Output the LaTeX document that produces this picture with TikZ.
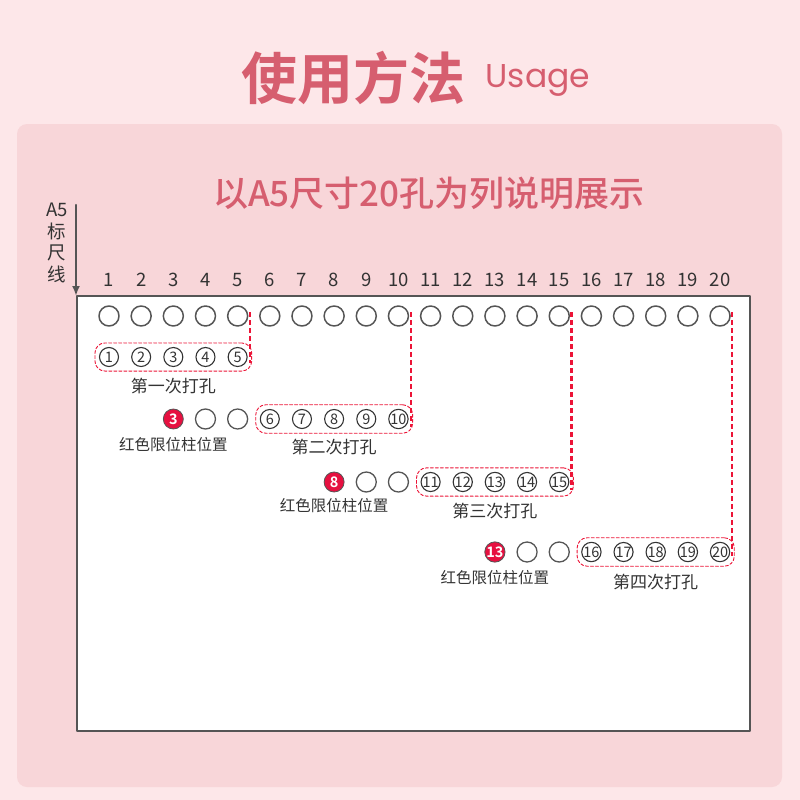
\documentclass[tikz,border=0pt]{standalone}
\usepackage{fontspec}
\setmainfont{Noto Sans CJK SC}[BoldFont={Noto Sans CJK SC Bold}]
\newfontfamily\usagefont{Poppins}
\newfontfamily\mediumfont{Noto Sans CJK SC Medium}
\usetikzlibrary{arrows.meta,calc,positioning,fit}

\definecolor{pageBg}{RGB}{253,231,233}
\definecolor{panelBg}{RGB}{248,214,217}
\definecolor{titleRose}{RGB}{214,94,111}
\definecolor{cutRed}{RGB}{236,20,55}
\definecolor{pinRed}{RGB}{230,16,64}
\definecolor{holeGray}{RGB}{85,85,85}
\definecolor{textGray}{RGB}{51,51,51}

\begin{document}
\begin{tikzpicture}[x=1pt, y=-1pt, >=Latex, line cap=round, line join=round]

% ---------- styles (safe names) ----------
\tikzset{
  holeDot/.style  ={circle, draw=holeGray, line width=1.5pt, fill=white,
                    minimum size=20pt, inner sep=0pt},
  holeNum/.style  ={text=textGray, inner sep=0pt, font=\fontsize{18.5}{18.5}\selectfont},
  punchNum/.style ={circle, draw=textGray, line width=1.1pt, fill=white,
                    minimum size=19pt, inner sep=0pt, text=textGray,
                    font=\fontsize{14.5}{14.5}\selectfont},
  stopPin/.style  ={circle, draw=holeGray, line width=0.8pt, fill=pinRed,
                    minimum size=20pt, inner sep=0pt, text=white,
                    font=\bfseries\fontsize{14.5}{14.5}\selectfont},
  punchBox/.style ={draw=cutRed, line width=0.9pt, dash pattern=on 3pt off 2pt,
                    rounded corners=10pt, inner sep=4pt},
  cutLine/.style  ={draw=cutRed, line width=2.2pt, dash pattern=on 5pt off 3pt, line cap=butt},
  stepText/.style ={text=textGray, inner sep=1pt, font=\fontsize{17}{17}\selectfont},
  pinText/.style  ={text=textGray, inner sep=1pt, font=\fontsize{15.5}{15.5}\selectfont},
  paperSheet/.style={draw=holeGray, line width=1.8pt, fill=white, line cap=butt}
}

% ---------- background ----------
\fill[pageBg] (0,0) rectangle (800,800);
\useasboundingbox (0,0) rectangle (800,800);
\fill[panelBg, rounded corners=10pt] (17,124) rectangle (782,787);

% ---------- titles ----------
\node[text=titleRose, font=\bfseries\fontsize{56}{56}\selectfont] (title) at (353,78) {使用方法};
\node[text=titleRose, font=\usagefont\fontsize{33}{33}\selectfont, anchor=west] (usage) at (482,80) {Usage};
\node[text=titleRose, font=\mediumfont\fontsize{35}{35}\selectfont] (subtitle) at (429,193) {以A5尺寸20孔为列说明展示};

% ---------- paper and ruler ----------
\path[paperSheet] (77,296) rectangle (750,731);
\coordinate (rulerTop) at (76,205);
\coordinate (rulerTip) at (76,296);
\draw[holeGray, line width=2.4pt, -{Latex[length=10pt,width=8pt]}] (rulerTop) -- (rulerTip);
\node[text=textGray, align=center, font=\fontsize{18.5}{21.5}\selectfont] (rulerText) at (57,243)
  {A5\\标\\尺\\线};

% ---------- holes along the edge ----------
\foreach \i in {1,...,20}{
  \pgfmathsetmacro\hx{109+(\i-1)*32.16}
  \node[holeDot] (h\i) at (\hx,316) {};
  \node[holeNum] (n\i) at (\hx,280) {\i};
}

% ---------- punch rounds ----------
\foreach \r/\ry in {1/357,2/419,3/482,4/552}{
  \foreach \k in {1,...,5}{
    \pgfmathtruncatemacro\i{(\r-1)*5+\k}
    \node[punchNum] (c\i) at (h\i |- 0,\ry) {\i};
  }
}
\node[punchBox, fit=(c1)(c5)]   (box1) {};
\node[punchBox, fit=(c6)(c10)]  (box2) {};
\node[punchBox, fit=(c11)(c15)] (box3) {};
\node[punchBox, fit=(c16)(c20)] (box4) {};

% red stop pins with the two free holes beside them
\node[stopPin] (pin2) at (h3 |- c6)  {3};
\node[holeDot, line width=1.3pt] (o4) at (h4 |- c6)  {};
\node[holeDot, line width=1.3pt] (o5) at (h5 |- c6)  {};
\node[stopPin] (pin3) at (h8 |- c11) {8};
\node[holeDot, line width=1.3pt] (o9)  at (h9 |- c11)  {};
\node[holeDot, line width=1.3pt] (o10) at (h10 |- c11) {};
\node[stopPin] (pin4) at (h13 |- c16) {13};
\node[holeDot, line width=1.3pt] (o14) at (h14 |- c16) {};
\node[holeDot, line width=1.3pt] (o15) at (h15 |- c16) {};

% ---------- labels ----------
\node[stepText, below=5pt of box1] (step1) {第一次打孔};
\node[stepText, below=4pt of box2] (step2) {第二次打孔};
\node[stepText, below=5pt of box3] (step3) {第三次打孔};
\node[stepText, below=6pt of box4] (step4) {第四次打孔};
\node[pinText, below=7pt of pin2] (pinLbl2) {红色限位柱位置};
\node[pinText, below=5pt of pin3] (pinLbl3) {红色限位柱位置};
\node[pinText, below=7pt of pin4] (pinLbl4) {红色限位柱位置};

% ---------- cut guides ----------
\draw[cutLine] ($(h5.east)+(1.5,-4)$)  -- ($(h5.east |- c5)+(1.5,6)$);
\draw[cutLine] ($(h10.east)+(1.5,-4)$) -- ($(h10.east |- c10)+(1.5,8)$);
\draw[cutLine] ($(h15.east)+(1.5,-4)$) -- ($(h15.east |- c15)+(1.5,8)$);
\draw[cutLine] ($(h20.east)+(1.5,-4)$) -- ($(h20.east |- c20)+(1.5,4)$);

\end{tikzpicture}
\end{document}
